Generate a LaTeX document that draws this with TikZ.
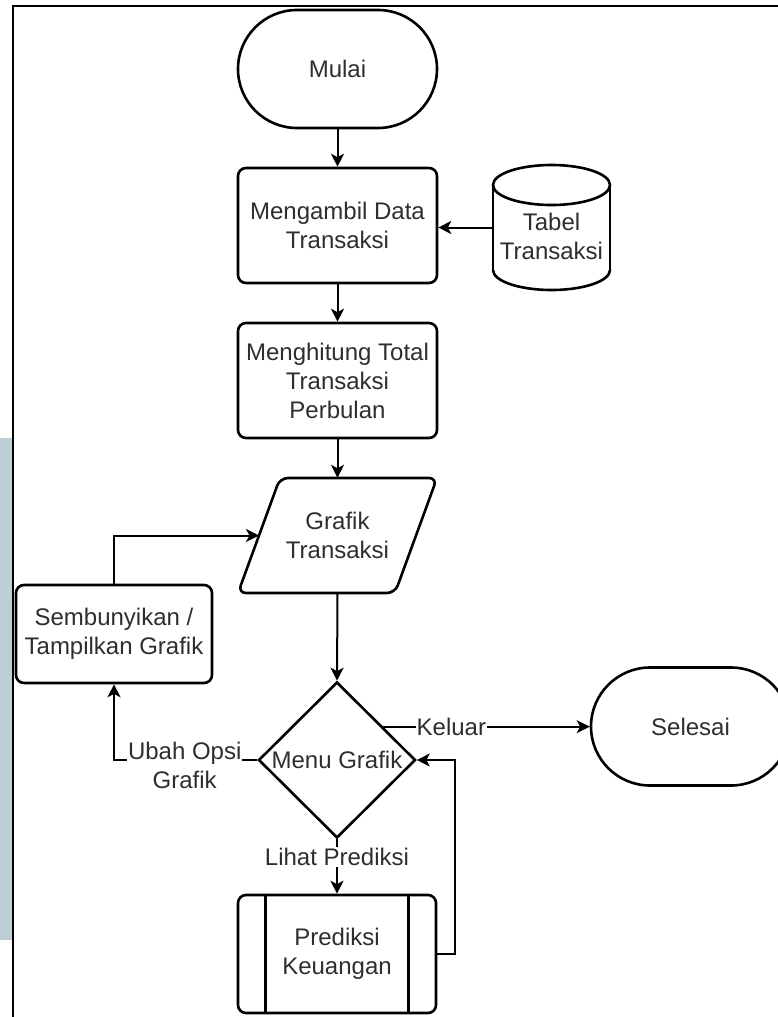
\documentclass[tikz,border=0pt]{standalone}
\usepackage{fontspec}
\setmainfont{Liberation Sans}
\usetikzlibrary{shapes.geometric,arrows.meta,calc}
\definecolor{ink}{HTML}{2E2E2E}
\definecolor{sidebar}{HTML}{BECED5}
\begin{document}
\begin{tikzpicture}[x=1pt,y=-1pt,
  every node/.style={font=\fontsize{24}{29}\selectfont, text=ink, align=center},
  shapeline/.style={line width=2.6pt, draw=black},
  procbox/.style={shapeline, rectangle, rounded corners=8pt, minimum width=199pt, minimum height=115pt, inner sep=0pt},
  terminal/.style={shapeline, rectangle, rounded corners=59pt, minimum width=199pt, minimum height=118pt, inner sep=0pt},
  anchorbox/.style={rectangle, draw=none, inner sep=0pt},
  flow/.style={line width=2pt, -{Stealth[length=13pt,width=13pt,inset=3.5pt]}},
  edgelabel/.style={fill=white, inner sep=1pt}]

\useasboundingbox (0,0) rectangle (778,1017);
\clip (0,0) rectangle (778,1017);

% side strip and page frame
\fill[sidebar] (0,438) rectangle (12,940);
\draw[line width=2.6pt] (13,1017) -- (13,6) -- (778,6);

% start and processing steps
\node[terminal] (mulai) at (337.5,69) {Mulai};
\node[procbox] (ambil) at (337.5,225.5) {Mengambil Data\\Transaksi};
\node[procbox] (hitung) at (337.5,380.5) {Menghitung Total\\Transaksi\\Perbulan};

% data store: cylinder
\node[anchorbox, minimum width=117pt, minimum height=125pt] (tabel) at (551.5,227.5) {};
\fill[white] (493,185) rectangle (610,270);
\draw[shapeline] (493,185) -- (493,270);
\draw[shapeline] (610,185) -- (610,270);
\draw[shapeline, fill=white] (551.5,185) ellipse [x radius=58.5pt, y radius=20pt];
\begin{scope}
  \clip (480,270) rectangle (625,300);
  \draw[shapeline] (551.5,270) ellipse [x radius=58.5pt, y radius=20pt];
\end{scope}
\node (tabeltext) at (551.5,236) {Tabel\\Transaksi};

% input/output: parallelogram
\coordinate (gtl) at (280,478);
\coordinate (gtr) at (437,478);
\coordinate (gbr) at (395,593);
\coordinate (gbl) at (238,593);
\draw[shapeline, rounded corners=8pt] (gtl) -- (gtr) -- (gbr) -- (gbl) -- cycle;
\node[anchorbox, minimum width=157pt, minimum height=115pt] (grafik) at (337.5,535.5) {Grafik\\Transaksi};
\coordinate (gin) at ($(gtl)!0.5!(gbl)$);

% decision
\node[shapeline, diamond, minimum width=157pt, minimum height=156pt, inner sep=0pt] (menu) at (337,760) {};
\node (menutext) at (menu) {Menu Grafik};

% side action and end
\node[procbox, minimum width=196pt, minimum height=98pt] (sembunyi) at (114,634) {Sembunyikan /\\Tampilkan Grafik};
\node[terminal] (selesai) at (690.5,726.5) {Selesai};

% predefined process
\node[procbox, minimum width=198pt, minimum height=118pt] (prediksi) at (337,954) {Prediksi\\Keuangan};
\draw[shapeline] ($(prediksi.north west)+(29,0)$) -- ($(prediksi.south west)+(29,0)$);
\draw[shapeline] ($(prediksi.north east)+(-29,0)$) -- ($(prediksi.south east)+(-29,0)$);

% connectors
\draw[flow] (mulai.south) -- (ambil.north);
\draw[flow] (tabel.west) -- (tabel.west -| ambil.east);
\draw[flow] (ambil.south) -- (hitung.north);
\draw[flow] (hitung.south) -- (grafik.north);
\draw[flow] (grafik.south) -- (menu.north);
\coordinate (kout) at ($(menu.east)!0.42!(menu.north)$);
\draw[flow] (kout) -- (kout -| selesai.west) node[pos=0.33, edgelabel] {Keluar};
\draw[flow] (menu.west) -| (sembunyi.south) node[pos=0.253, edgelabel, yshift=-5pt] {Ubah Opsi\\Grafik};
\draw[flow] (sembunyi.north) |- (gin);
\draw[flow] (menu.south) -- (prediksi.north) node[pos=0.32, edgelabel] {Lihat Prediksi};
\draw[flow] (prediksi.east) -- ++(18,0) |- (menu.east);
\end{tikzpicture}
\end{document}
